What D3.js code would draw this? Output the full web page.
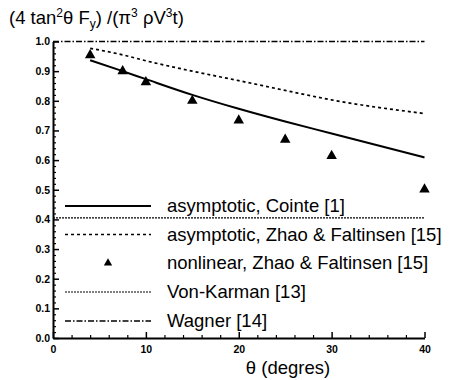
<!DOCTYPE html>
<html>
<head>
<meta charset="utf-8">
<script src="https://cdn.jsdelivr.net/npm/d3@7"></script>
<style>
  body { margin: 0; background: #fff; }
  text { font-family: "Liberation Sans", Arial, sans-serif; fill: #000; }
</style>
</head>
<body>
<div id="chart"></div>
<script>
// theta (degrees) for the curves
const thetaCurve = [4, 7.5, 10, 15, 20, 25, 30, 40];
const cointe = [0.937, 0.900, 0.873, 0.820, 0.773, 0.730, 0.690, 0.609];
const zhaoAsym = [0.977, 0.955, 0.935, 0.900, 0.868, 0.835, 0.803, 0.757];
// nonlinear points
const thetaPts = [4, 7.5, 10, 15, 20, 25, 30, 40];
const zhaoNonlin = [0.954, 0.900, 0.863, 0.800, 0.734, 0.669, 0.614, 0.501];
// constant values
const vonKarman = 0.405;
const wagner = 1.0;

const xTicks = [0, 10, 20, 30, 40];
const yTicks = [0, 0.1, 0.2, 0.3, 0.4, 0.5, 0.6, 0.7, 0.8, 0.9, 1.0];

const legendLabels = [
    "asymptotic, Cointe [1]",
    "asymptotic, Zhao & Faltinsen [15]",
    "nonlinear, Zhao & Faltinsen [15]",
    "Von-Karman [13]",
    "Wagner [14]"
];

const wSvg = 458;
const hSvg = 380;

const svg = d3.select("#chart")
    .append("svg")
    .attr("width", wSvg)
    .attr("height", hSvg);

// Scales
const xScale = d3.scaleLinear([0, 40], [53, 424.5]);
const yScale = d3.scaleLinear([0, 1], [338, 41.5]);

// Minor ticks
const xMinor = d3.range(0, 41, 2).filter(v => v % 10 != 0);
const yMinor = d3.range(0, 51, 1).map(v => v / 50).filter((v, i) => i % 5 != 0);

svg.append("g")
    .attr("transform", `translate(0, ${yScale(0)})`)
    .call(d3.axisBottom(xScale).tickValues(xMinor).tickSize(-3).tickFormat(""))
    .call(g => g.select(".domain").remove())
    .selectAll("line").attr("stroke-width", 1.2);

svg.append("g")
    .attr("transform", `translate(${xScale(0)}, 0)`)
    .call(d3.axisLeft(yScale).tickValues(yMinor).tickSize(-3).tickFormat(""))
    .call(g => g.select(".domain").remove())
    .selectAll("line").attr("stroke-width", 1.2);

// Axis
const xAxis = svg.append("g")
    .attr("transform", `translate(0, ${yScale(0)})`)
    .call(d3.axisBottom(xScale).tickValues(xTicks).tickSizeInner(-6).tickSizeOuter(0).tickPadding(8).tickFormat(d3.format("d")));

const yAxis = svg.append("g")
    .attr("transform", `translate(${xScale(0)}, 0)`)
    .call(d3.axisLeft(yScale).tickValues(yTicks).tickSizeInner(-6).tickSizeOuter(0).tickPadding(3).tickFormat(d3.format(".1f")));

for (let ax of [xAxis, yAxis]) {
    ax.select(".domain").attr("stroke-width", 2);
    ax.selectAll(".tick line").attr("stroke-width", 1.5);
    ax.selectAll("text")
        .style("font-size", "10.5px")
        .style("font-weight", "bold")
        .style("font-family", "\"Liberation Sans\", Arial, sans-serif");
}

// Lines
const line = d3.line()
    .x(d => xScale(d[0]))
    .y(d => yScale(d[1]));

svg.append("path")
    .datum([[0, wagner], [40, wagner]])
    .attr("d", line)
    .attr("fill", "none")
    .attr("stroke", "#000")
    .attr("stroke-width", 1.3)
    .attr("stroke-dasharray", "6,2,1.5,2");

svg.append("path")
    .datum([[0, vonKarman], [40, vonKarman]])
    .attr("d", line)
    .attr("fill", "none")
    .attr("stroke", "#000")
    .attr("stroke-width", 1.1)
    .attr("stroke-dasharray", "2,1");

svg.append("path")
    .datum(thetaCurve.map((t, i) => [t, cointe[i]]))
    .attr("d", line.curve(d3.curveMonotoneX))
    .attr("fill", "none")
    .attr("stroke", "#000")
    .attr("stroke-width", 2);

svg.append("path")
    .datum(thetaCurve.map((t, i) => [t, zhaoAsym[i]]))
    .attr("d", line.curve(d3.curveMonotoneX))
    .attr("fill", "none")
    .attr("stroke", "#000")
    .attr("stroke-width", 1.7)
    .attr("stroke-dasharray", "3,3");

// Points
svg.selectAll(".pt")
    .data(thetaPts.map((t, i) => [t, zhaoNonlin[i]]))
    .enter()
    .append("path")
    .attr("class", "pt")
    .attr("d", d3.symbol(d3.symbolTriangle, 48))
    .attr("transform", d => `translate(${xScale(d[0])}, ${yScale(d[1])})`)
    .attr("fill", "#000");

// Legend
const legY = [206, 234.5, 263, 292, 321];
const legStyles = [
    { dash: null, width: 2 },
    { dash: "3,3", width: 1.6 },
    null,
    { dash: "2,1", width: 1.1 },
    { dash: "6,2,1.5,2", width: 1.3 }
];
const legend = svg.append("g");
legendLabels.forEach((label, i) => {
    const st = legStyles[i];
    if (st) {
        legend.append("line")
            .attr("x1", 65).attr("x2", 151)
            .attr("y1", legY[i]).attr("y2", legY[i])
            .attr("stroke", "#000")
            .attr("stroke-width", st.width)
            .attr("stroke-dasharray", st.dash);
    } else {
        legend.append("path")
            .attr("d", d3.symbol(d3.symbolTriangle, 30))
            .attr("transform", `translate(108, ${legY[i]})`)
            .attr("fill", "#000");
    }
    legend.append("text")
        .attr("x", 167)
        .attr("y", legY[i])
        .attr("dy", "0.35em")
        .style("font-size", "18.5px")
        .text(label);
});

// Title
const title = svg.append("text")
    .attr("x", 9)
    .attr("y", 24)
    .style("font-size", "18.5px");
title.append("tspan").text("(4 tan");
title.append("tspan").attr("dy", -7).style("font-size", "12px").text("2");
title.append("tspan").attr("dy", 7).text("θ F");
title.append("tspan").attr("dy", 4).style("font-size", "12px").text("y");
title.append("tspan").attr("dy", -4).text(") /(π");
title.append("tspan").attr("dy", -7).style("font-size", "12px").text("3");
title.append("tspan").attr("dy", 7).text(" ρV");
title.append("tspan").attr("dy", -7).style("font-size", "12px").text("3");
title.append("tspan").attr("dy", 7).text("t)");

// X label
svg.append("text")
    .attr("x", 288)
    .attr("y", 374)
    .attr("text-anchor", "middle")
    .style("font-size", "18.5px")
    .text("θ (degres)");
</script>
</body>
</html>
